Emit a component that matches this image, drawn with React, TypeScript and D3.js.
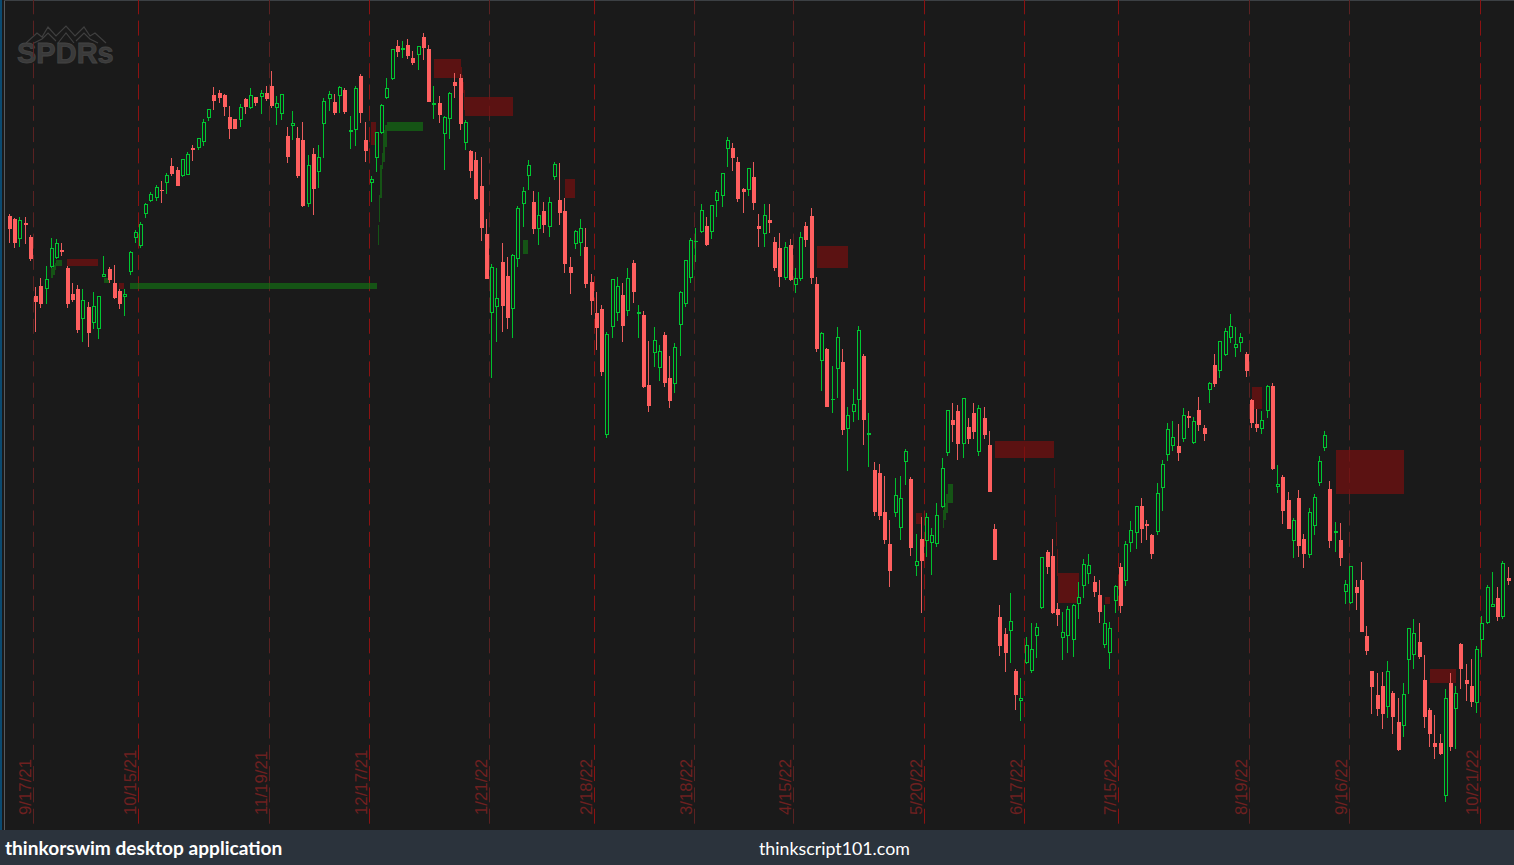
import React, { useEffect, useRef } from "react";
import * as d3 from "d3";

// values are chart points (no price axis is shown), 0 = bottom of plot
const highs = [
  616,612,612.7,612.7,595,543.3,551.7,564,592.3,591,
  586.7,564,546.7,545,540.7,528.3,537.7,534,574,563.3,
  565,541,541,579,600,608,627,637.7,644.7,649,
  656.7,672,663.3,671,677.7,684.7,692.3,710.7,721,742.7,
  740,736,724,711,725.7,732,741.7,733,740,744,
  758.7,734,736,703,719,703.3,707.7,675,681.7,684.7,
  731.7,739,736,744,741.7,714,744,756,707.7,654,
  698,726,751.7,781,790,788.7,791,779,784,797,
  785,744,734,714,737.7,757,756,710,680,678,
  673,611,565.7,561.7,586.7,572.7,576,624,642.7,670,
  638.7,637.7,627.7,633,667.7,666.7,632,572.7,600,610.7,
  602,556,538,525,498,551,553,546.7,562,570,
  525,519,489,503,485,498,474,486.7,538.7,570,
  591.7,601.7,626,613,625,640,657,692.7,687,673,
  642,662,668,616,626,626,593,597,587.7,590.7,
  561.7,597.7,607.7,621.7,552.7,498,482,464,503,481,
  422.7,440.7,504,476,416.7,368,366,354,310,352,
  354,381,352.7,295.7,313.3,316.7,301.7,326.7,371.7,420,
  426.7,425,432,411.7,426.7,424.7,422.7,398.7,305.7,225,
  202,236.7,161,151.7,193.3,206.7,206.7,273,280,291,
  226.7,217.7,223.7,226,247.7,270.7,275.7,253.7,249.7,224.7,
  208,245,266.7,289,308.7,324,331.7,310,296,346.7,
  369.7,406.7,408.7,405.7,421.7,418.7,412.7,432.7,404.7,448,
  475.7,489,501.7,516,502.7,496.7,478,431.3,421,418.7,
  445,446.7,364.7,355,337.7,311.7,340,296,321.7,335.7,
  373.7,398.7,349,307.7,307,249.7,264,250,268,204,
  159,156.7,158,168.7,139,131.7,146.7,202,210.7,206.7,
  174.7,122,115,96,140.7,157,144,187,166,171,
  183.7,214,244.7,257.7,243,269,262.7,
];

const lows = [
  587.3,582.3,583.3,586.3,569,498.3,522.3,526.3,561.7,570.7,
  574.3,522.3,527.7,497.3,488.3,483.3,501.3,490.7,552.7,546.7,
  530.7,521.3,514.3,555,587.3,582,611.7,627.7,629.3,627.3,
  635.7,654.3,644.3,653,654.7,669.3,680.3,684,709.3,720.3,
  727.3,714.3,691.3,701,703.3,716.3,721.3,723.7,716.5,729.3,
  722.3,705.3,710.3,666.7,690.3,652.3,623,623.3,615,642.3,
  672.3,719.3,715,717.3,716,681.3,684.3,707.3,668.3,628.3,
  658.3,696,731.3,750,773,772,771,765,760.3,770,
  728,711,707,660,691,732,700,679.7,652,630,
  589,551,451.7,488.3,498.3,501,492.3,562.7,603.3,639.7,
  596,585.3,597.3,593.3,650,605.3,557,536,581,574,
  542,515,480,454,392.3,492.3,509,488,514,527,
  492,442,418,463.3,449.3,443,422,437.3,474,523.3,
  547.3,567.7,597.3,584,591.3,612.7,622.7,663.3,659.3,628,
  616.7,634.3,620,583,583,597.3,559,543,550,549,
  537.3,549,583,546,478,439.3,423,417.3,432.3,395,
  359.3,408.3,410,385,363,314,310,286,243,313,
  290,345.3,274,254.3,216.7,273.3,254.7,282.7,322.3,374.3,
  388.3,370.3,371.7,385.7,391.3,374.3,390.7,338,270,174.3,
  158,167.3,120,109.3,166.3,156.7,172.5,221,256.3,216,
  204,170.3,177.3,172.7,211.3,232.3,246.3,233.3,207.3,182.3,
  161.3,216.7,217,244.3,277.7,281.3,287.3,290.3,271,295.3,
  319.3,369.3,379.3,369.3,388.3,402.3,386.3,399.3,389.3,427.3,
  442.7,452,474.3,486.7,473.3,478.3,453.3,402.3,398.3,396.3,
  412.3,360,337.3,306,301,272.3,273.3,262.3,272.3,295.3,
  344.3,379.3,282,278.3,264,225.7,226,220,198,175,
  116.3,114.3,101.3,111.7,95.7,79,92.7,135.7,160.7,170.7,
  102.3,83.3,71,75,27.7,79.3,80.7,140.7,129,123.3,
  117.3,173.3,206.3,222.7,209,211.3,244.7,
];

const opens = [
  614,611,590.3,607,593,534,544,540.3,562.3,571.3,
  580,562,536,541,510.3,523,506.3,500.3,553,561,
  547,539,532.7,557.3,591.3,584,615.7,628.3,631.3,640,
  646.3,664,660,653.3,655.3,682,681.3,687.3,711.3,735,
  737,735,713,711,709.3,731,721.3,733,733.3,737,
  744,722.3,715.3,694,703.3,692,690,625.3,676,657.3,
  705.3,730.7,728,733.3,740,698.3,699.3,754,690,647.3,
  671.3,696.3,731.3,750.3,784,779.3,785,772,775,793,
  781,725,727,695.3,710.3,748,752,686.3,679,670,
  644,596,516.3,522.3,568,554,520.3,570.3,625.3,653.3,
  628,600.3,619,602.3,652.3,630,619,563,585.3,586.3,
  583,548,517,521,394.3,502.3,516.3,535,518.3,567,
  515.3,515,445,476.3,461.3,495,452,445.3,504.3,525.3,
  551.3,588.3,597.3,604,597.3,628.3,633.3,680.3,682,668,
  641,639.3,653,604,595.3,610,588,582,551.3,585,
  544.3,550.3,604,614,546,468.3,481,430,460.3,468,
  400.3,417.3,429.3,474,394.3,360,357,318,286,317,
  302,368.3,351,263.3,291,288.3,286.3,285.3,322.3,376.3,
  410,419,385.3,403,417,377.3,412,385,301,213,
  196,198.3,159,128.3,166.3,158.3,193.3,221.3,278,274,
  221,191.3,193.3,189.3,225.3,243.3,255.3,248,235,184.3,
  176.3,228.3,263,248.3,286.3,296.3,324,306,295,297.3,
  341.3,374.3,383.3,384,390.3,414,386.3,420,402,439.3,
  465,458.3,474.3,491.3,481.3,486.3,476,430,406,400.3,
  418.3,444,342.3,353,330,288.3,332,291,274.3,303.3,
  346.3,381.3,341,297,290,237.7,226.3,243,250,194,
  159,135,144,122.3,137,108,103.3,169.3,174.3,188,
  150,120,87,87,33.7,147,120.3,186,150,144,
  126.3,189.3,206.3,222.7,232,212.3,252,
];

const closes = [
  601.3,587.3,609.7,605.3,571,528.3,526.3,550.7,581.7,586.7,
  578.3,526,530,500,529.7,497,523.7,533.7,555.7,550,
  532,526,535.7,577.7,597.7,606,625.7,635.7,642.7,639,
  654.7,656,644.3,670.7,676,680,691.7,707.7,720.7,729,
  732,723.3,701,701,722.7,723,734.7,727,737,731,
  724,727.3,735.7,673,706.7,654,624,664.7,641,672.7,
  728.7,735.7,717,742.7,718,700,741.7,717,679,651,
  697.7,724.7,741.7,780.7,778,781.7,774,767,783.7,782,
  728,726.7,715,712.7,736.7,744,706,707.7,659,631,
  602,551,562.7,531.7,524,512,574.7,621.7,638.7,664.7,
  601,614.7,605,627.7,665.7,617,566,557,598.7,601.7,
  546,529,502,458,495.7,550.7,543.7,504,551.7,538,
  517.7,443,424,489.7,478.7,447,429,482.7,537.7,569.7,
  589.7,589,619.7,585,624.7,637.7,656.7,689.7,672,631,
  638,661.7,627,601,614.7,607,562,553,582.7,550,
  551.7,592.7,590,552,481,496.7,423,430.7,492.7,400,
  414.7,425.7,499.7,410,396.7,318,314,290,259,335,
  332,379,282,268.7,269,312.7,294.7,314.7,361.7,419.7,
  405,386,431.7,391,398,421.7,395,338,270,184,
  177,208.7,135,131.7,184.7,180.7,202.7,272.7,263,217,
  215,197.7,220.7,224.7,232.7,265.7,264.7,238,218,206.7,
  201.7,243.7,224,285.7,299.7,323.7,301,304,276,336.7,
  365.7,400.7,392.7,377,414.7,412,408.7,405,396,446.7,
  446,488.7,498.7,503.7,485.7,492.7,459,407,402,409.7,
  443.7,361,345.7,319,301,309.7,284,276,317.7,332.7,
  368.7,394.7,289,299,272,245.7,263.7,237,198,179,
  143,121,116,158.7,113,80,135.7,201.7,196.7,173,
  113,96,83,76,131.7,83,136.7,161,146,128,
  180.7,206.7,242.7,225.7,213,266.7,249,
];

// expiry fridays and the bar each one starts at
const dateLabels = ["9/17/21","10/15/21","11/19/21","12/17/21","1/21/22","2/18/22","3/18/22","4/15/22","5/20/22","6/17/22","7/15/22","8/19/22","9/16/22","10/21/22"];
const dateBars = [5,25,50,69,92,112,131,150,175,194,212,237,256,281];
const dateStrong = [0,1,0,1,0,1,0,0,1,1,1,0,0,1];

// supply zones, bar numbers and chart points
const redFrom = [11.38,21.3,81.4,86.6,86.8,87,87.1,87.3,69.4,106.4,154.5,173.4,188.5,199.7,199.9,200.1,200.3,200.5,209.5,237.5,253.5,271.5];
const redTo = [17.3,22.25,86.6,86.8,87,87.1,87.3,96.5,70.3,108.3,160.4,174.5,199.7,199.9,200.1,200.3,200.5,204.5,210.4,239.4,266.5,276.5];
const redHigh = [570.7,547,771,763,755,748,740,733,708,651,584,317,389,362,335,308,281,257,233,443,380,161];
const redLow = [564.3,541,752,752,740,737,720,714,685,632.3,562,306,372,342,313,284,254,227,226,421,336,147];

// demand zones
const greenFrom = [9.3,9,8.65,8.3,18.4,23.4,70.7,70.95,71.1,71.4,71.7,72.1,72.5,98.4,178.5,178.7,179.1,179.5];
const greenTo = [10.4,9.3,9,8.65,19.4,70.5,70.95,71.1,71.4,71.7,72.1,72.5,79.3,99.3,178.7,179.1,179.5,180.4];
const greenHigh = [570,567,565,562,552,547,605,635,665,677,700,705,708,590,320,327,336,346];
const greenLow = [564,560,555,552,547,541,585,608,632,661,668,683,699,576,302,310,317,327];

const WIDTH = 1514;
const HEIGHT = 865;
const PLOT_BOTTOM = 830;

export default function App() {
  const ref = useRef<SVGSVGElement>(null);

  useEffect(() => {
    const svg = d3.select(ref.current!);
    svg.selectAll("*").remove();

    const x = d3
      .scaleBand<number>()
      .domain(d3.range(highs.length))
      .range([7.38, 7.38 + 5.24 * highs.length]);
    const barEdge = d3
      .scaleLinear()
      .domain([0, highs.length])
      .range([7.38, 7.38 + 5.24 * highs.length]);
    const y = d3.scaleLinear().domain([0, PLOT_BOTTOM]).range([PLOT_BOTTOM, 0]);

    svg.append("rect").attr("width", WIDTH).attr("height", HEIGHT).attr("fill", "#1a1a1a");
    svg.append("rect").attr("width", 2).attr("height", PLOT_BOTTOM).attr("fill", "#0b4a70");
    svg.append("rect").attr("x", 4).attr("width", 1).attr("height", PLOT_BOTTOM).attr("fill", "#555a5e");
    svg.append("rect").attr("x", 4).attr("width", WIDTH - 4).attr("height", 1).attr("fill", "#3c4044");

    // watermark
    const logo = svg.append("g");
    logo
      .append("path")
      .attr("d", "M26 43 L37 33 L42 37 L48 27 L56 36 L66 26 L75 36 L84 27 L90 36 L95 33 L106 43 M34 43 L42 39 L48 33 L56 41 M58 43 L66 33 L74 43 M76 41 L84 33 L90 39 L98 43")
      .attr("fill", "none")
      .attr("stroke", "#3f3f3f")
      .attr("stroke-width", 1.2);
    logo
      .append("text")
      .text("SPDRs")
      .attr("x", 17)
      .attr("y", 63)
      .attr("font-family", "Liberation Sans")
      .attr("font-weight", "bold")
      .attr("font-size", 29)
      .attr("fill", "#3a3a3a")
      .attr("stroke", "#444444")
      .attr("stroke-width", 0.8);

    // date lines + labels
    const dates = svg
      .selectAll("g.date")
      .data(dateLabels)
      .enter()
      .append("g")
      .classed("date", true)
      .attr("transform", (d, i) => `translate(${Math.floor(x(dateBars[i])! + 0.3)},0)`);
    dates
      .append("line")
      .attr("x1", 0.5)
      .attr("x2", 0.5)
      .attr("y1", 0)
      .attr("y2", PLOT_BOTTOM)
      .attr("stroke", (d, i) => (dateStrong[i] ? "#8c1212" : "#5a2222"))
      .attr("stroke-dasharray", "15 6.3")
      .attr("stroke-dashoffset", 0.7);
    dates
      .append("text")
      .text((d) => d)
      .attr("transform", "translate(-2,815) rotate(-90)")
      .attr("font-family", "Liberation Sans")
      .attr("font-size", 16.8)
      .attr("fill", "#6e2020");

    const zones = svg.append("g").attr("shape-rendering", "crispEdges");
    const drawZones = (
      from: number[],
      to: number[],
      high: number[],
      low: number[],
      fill: string
    ) => {
      zones
        .append("g")
        .selectAll("rect")
        .data(from)
        .enter()
        .append("rect")
        .attr("x", (d) => barEdge(d))
        .attr("width", (d, i) => barEdge(to[i]) - barEdge(d))
        .attr("y", (d, i) => y(high[i]))
        .attr("height", (d, i) => y(low[i]) - y(high[i]))
        .attr("fill", fill)
        .attr("opacity", 0.7);
    };
    drawZones(redFrom, redTo, redHigh, redLow, "rgb(120,15,15)");
    drawZones(greenFrom, greenTo, greenHigh, greenLow, "rgb(20,110,20)");

    // candles: up bars hollow, down bars filled
    const candles = svg
      .selectAll("g.candle")
      .data(d3.range(highs.length))
      .enter()
      .append("g")
      .classed("candle", true)
      .attr("shape-rendering", "crispEdges")
      .attr("transform", (i) => `translate(${Math.round(x(i)! + x.bandwidth() / 2)},0)`);

    const isUp = (i: number) => closes[i] >= opens[i];
    const hollow = (i: number) => isUp(i) && closes[i] - opens[i] >= 1.5;
    const color = (i: number) => (isUp(i) ? "#00c832" : "#ff5f5f");

    candles
      .append("rect")
      .attr("x", -1)
      .attr("width", 1)
      .attr("y", (i) => y(highs[i]))
      .attr("height", (i) => y(lows[i]) - y(highs[i]))
      .attr("fill", (i) => (isUp(i) ? "#00c02e" : "#ea5c5c"));

    candles
      .append("rect")
      .attr("x", (i) => (hollow(i) ? -1.5 : -2))
      .attr("width", (i) => (hollow(i) ? 3 : 4))
      .attr("y", (i) => Math.round(y(Math.max(opens[i], closes[i]))) + (hollow(i) ? 0.5 : 0))
      .attr("height", (i) => Math.max(1, Math.round(Math.abs(opens[i] - closes[i])) - (hollow(i) ? 1 : 0)))
      .attr("fill", (i) => (hollow(i) ? "#1a1a1a" : color(i)))
      .attr("stroke", (i) => (hollow(i) ? color(i) : "none"));

    // footer
    svg.append("rect").attr("y", PLOT_BOTTOM).attr("width", WIDTH).attr("height", HEIGHT - PLOT_BOTTOM).attr("fill", "#2b333c");
    svg
      .append("text")
      .text("thinkorswim desktop application")
      .attr("x", 5)
      .attr("y", 855)
      .attr("font-family", "Lato")
      .attr("font-weight", "bold")
      .attr("font-size", 19.1)
      .attr("fill", "#ffffff");
    svg
      .append("text")
      .text("thinkscript101.com")
      .attr("x", 759)
      .attr("y", 855)
      .attr("font-family", "Lato")
      .attr("font-size", 17.8)
      .attr("fill", "#ffffff");
  }, []);

  return (
    <svg
      ref={ref}
      width={WIDTH}
      height={HEIGHT}
      style={{ position: "absolute", left: 0, top: 0, display: "block" }}
    />
  );
}
